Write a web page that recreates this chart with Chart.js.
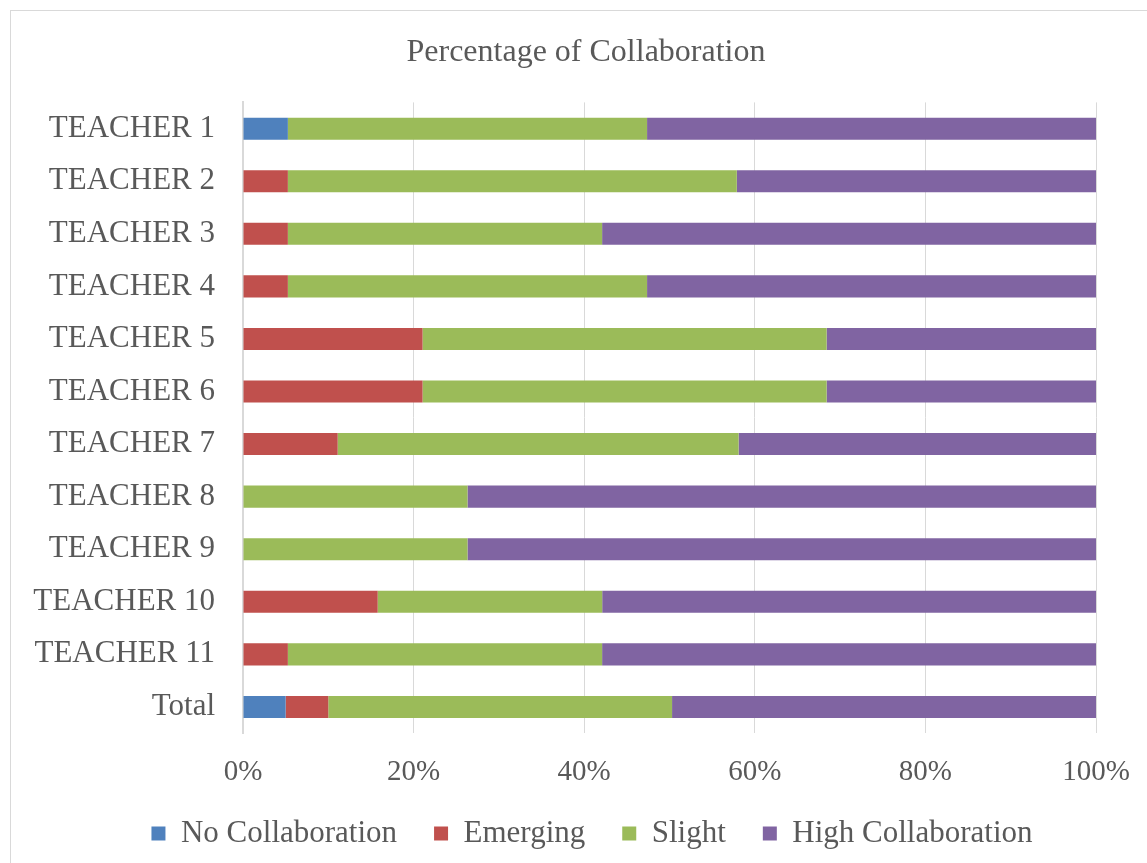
<!DOCTYPE html>
<html lang="en">
<head>
  <meta charset="UTF-8" />
  <title>Percentage of Collaboration</title>
  <script src="https://cdn.jsdelivr.net/npm/chart.js"></script>
  <style>
    body {
      margin: 0;
      background: #fff;
      overflow: hidden;
    }
    .frame {
      position: absolute;
      left: 10px;
      top: 10px;
      width: 1160px;
      height: 880px;
      border: 1px solid #d9d9d9;
    }
    .chart-box {
      position: absolute;
      left: 0;
      top: 0;
      width: 1147px;
      height: 863px;
    }
  </style>
</head>
<body>
  <div class="frame"></div>
  <div class="chart-box">
    <canvas id="collabChart"></canvas>
  </div>

  <script>
    const teachers = ['TEACHER 1', 'TEACHER 2', 'TEACHER 3', 'TEACHER 4', 'TEACHER 5', 'TEACHER 6',
      'TEACHER 7', 'TEACHER 8', 'TEACHER 9', 'TEACHER 10', 'TEACHER 11', 'Total'];
    const noCollaboration = [5.26, 0, 0, 0, 0, 0, 0, 0, 0, 0, 0, 5];
    const emerging = [0, 5.26, 5.26, 5.26, 21.05, 21.05, 11.1, 0, 0, 15.79, 5.26, 5];
    const slight = [42.11, 52.63, 36.84, 42.11, 47.37, 47.37, 47, 26.32, 26.32, 26.32, 36.84, 40.3];
    const highCollaboration = [52.63, 42.11, 57.9, 52.63, 31.58, 31.58, 41.9, 73.68, 73.68, 57.89, 57.9, 49.7];
    const xTicks = [0, 20, 40, 60, 80, 100];

    const font = 'Liberation Serif, Times New Roman, serif';
    const textColor = '#595959';

    // title and legend sit a bit right of the canvas centre in the original
    const shiftBlocks = {
      id: 'shiftBlocks',
      afterLayout(c) {
        c.titleBlock.left += 28; c.titleBlock.right += 28;
        c.legend.left += 34; c.legend.right += 34;
      }
    };

    const chart = new Chart(document.getElementById('collabChart'), {
      type: 'bar',
      data: {
        labels: teachers,
        datasets: [
          { label: 'No Collaboration', data: noCollaboration, backgroundColor: '#4f81bd' },
          { label: 'Emerging', data: emerging, backgroundColor: '#c0504d' },
          { label: 'Slight', data: slight, backgroundColor: '#9bbb59' },
          { label: 'High Collaboration', data: highCollaboration, backgroundColor: '#8064a2' }
        ]
      },
      plugins: [shiftBlocks],
      options: {
        indexAxis: 'y',
        responsive: true,
        maintainAspectRatio: false,
        animation: false,
        layout: { padding: { left: 20, right: 51, top: 33, bottom: 4 } },
        datasets: {
          bar: { barPercentage: 0.42, categoryPercentage: 1 }
        },
        plugins: {
          title: {
            display: true,
            text: 'Percentage of Collaboration',
            color: textColor,
            font: { family: font, size: 32, weight: 'normal' },
            padding: { top: 0, bottom: 31 }
          },
          legend: {
            position: 'bottom',
            labels: {
              color: textColor,
              font: { family: font, size: 31 },
              boxWidth: 14,
              boxHeight: 14,
              padding: 6,
              // extra gap between legend items
              generateLabels: c => {
                const items = Chart.defaults.plugins.legend.labels.generateLabels(c);
                items.forEach((it, i) => {
                  if (i < items.length - 1) it.text += '\u2002\u00a0\u00a0';
                });
                return items;
              }
            }
          },
          tooltip: { enabled: false }
        },
        scales: {
          x: {
            stacked: true,
            min: 0,
            max: 100,
            afterBuildTicks: axis => { axis.ticks = xTicks.map(v => ({ value: v })); },
            afterFit: s => { s.paddingRight = 0; },
            ticks: {
              color: textColor,
              font: { family: font, size: 29 },
              padding: 22,
              callback: v => v + '%'
            },
            grid: { color: '#d9d9d9', drawTicks: false },
            border: { display: false }
          },
          y: {
            stacked: true,
            afterFit: scale => { scale.width = 223; },
            ticks: {
              color: textColor,
              font: { family: font, size: 31 },
              padding: 28
            },
            grid: { display: false, drawTicks: false },
            border: { display: true, color: '#d9d9d9', width: 2 }
          }
        }
      }
    });
  </script>
</body>
</html>
